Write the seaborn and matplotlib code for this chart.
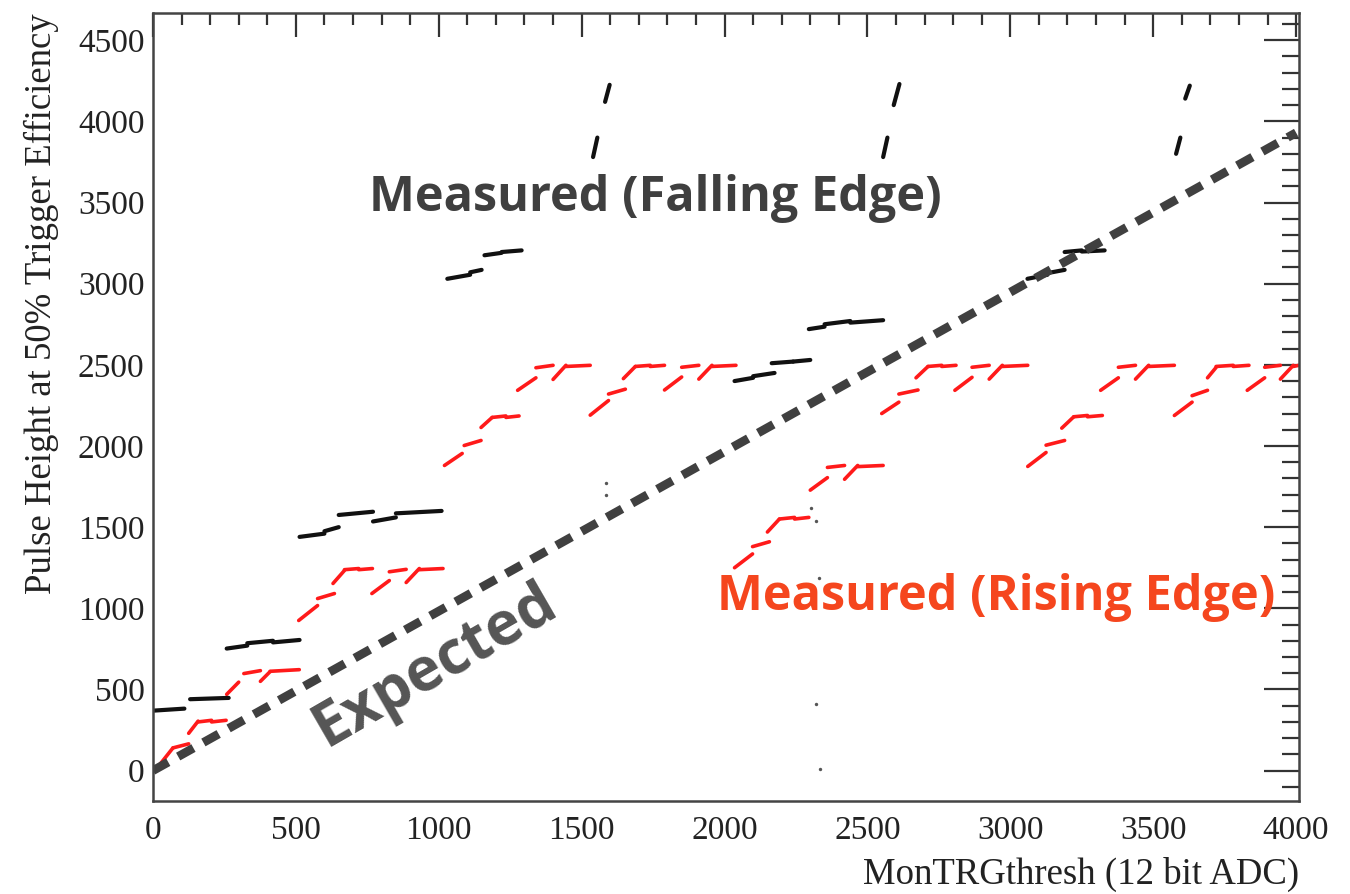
import numpy as np
import pandas as pd
import seaborn as sns
import matplotlib.pyplot as plt
from matplotlib.ticker import MultipleLocator

# rising edge (red) pieces: x start, x end, y start, y end
rise_x0 = [25, 70, 125, 158, 205,
           258, 318, 376, 410,
           510, 576, 630, 670, 720,
           766, 827, 886, 932,
           1020, 1089, 1148, 1187, 1235,
           1276, 1340, 1400, 1445,
           1530, 1594, 1646, 1688, 1740,
           1790, 1850, 1910, 1956,
           2035, 2098, 2150, 2192, 2245,
           2300, 2360, 2420, 2466,
           2550, 2610, 2670, 2712, 2760,
           2806, 2866, 2926, 2972,
           3061, 3125, 3180, 3222, 3270,
           3316, 3378, 3438, 3484,
           3574, 3636, 3690, 3720, 3780,
           3829, 3890, 3945, 3990]
rise_x1 = [70, 125, 158, 205, 256,
           300, 376, 410, 512,
           576, 635, 670, 720, 768,
           827, 886, 932, 1015,
           1082, 1148, 1187, 1235, 1281,
           1340, 1400, 1445, 1530,
           1594, 1653, 1688, 1740, 1790,
           1850, 1910, 1956, 2040,
           2098, 2157, 2192, 2245, 2295,
           2360, 2420, 2466, 2555,
           2610, 2677, 2712, 2760, 2810,
           2866, 2926, 2972, 3061,
           3125, 3190, 3222, 3270, 3322,
           3378, 3438, 3484, 3574,
           3636, 3690, 3720, 3780, 3835,
           3890, 3945, 3990, 4010]
rise_y0 = [40, 140, 230, 300, 300,
           470, 598, 550, 612,
           925, 1060, 1153, 1238, 1238,
           1091, 1225, 1159, 1238,
           1880, 2003, 2114, 2176, 2176,
           2343, 2482, 2410, 2490,
           2190, 2320, 2415, 2490, 2490,
           2345, 2485, 2412, 2490,
           1250, 1380, 1470, 1550, 1550,
           1728, 1868, 1795, 1873,
           2200, 2320, 2420, 2490, 2490,
           2343, 2485, 2412, 2490,
           1874, 2005, 2110, 2180, 2180,
           2343, 2485, 2412, 2490,
           2188, 2310, 2420, 2490, 2490,
           2343, 2485, 2412, 2490]
rise_y1 = [140, 165, 305, 310, 310,
           545, 616, 610, 622,
           1017, 1091, 1233, 1245, 1245,
           1171, 1240, 1245, 1245,
           1954, 2034, 2176, 2185, 2185,
           2420, 2497, 2497, 2497,
           2280, 2350, 2490, 2497, 2497,
           2425, 2497, 2497, 2497,
           1335, 1410, 1550, 1560, 1560,
           1805, 1880, 1880, 1880,
           2270, 2345, 2490, 2497, 2497,
           2423, 2497, 2497, 2497,
           1960, 2034, 2180, 2188, 2188,
           2420, 2497, 2497, 2497,
           2270, 2343, 2484, 2497, 2497,
           2420, 2497, 2497, 2497]

# falling edge (black) pieces
fall_x0 = [5, 130, 258, 330, 420, 513, 600, 650, 770, 850,
           1030, 1110, 1160, 1220, 1540, 1582,
           2035, 2100, 2165, 2240, 2295, 2350, 2440, 2555, 2592,
           3060, 3130, 3190, 3250, 3580, 3612]
fall_x1 = [110, 265, 330, 420, 513, 600, 650, 770, 850, 1010,
           1110, 1150, 1220, 1290, 1555, 1598,
           2100, 2175, 2240, 2300, 2350, 2440, 2555, 2570, 2612,
           3130, 3190, 3250, 3330, 3595, 3628]
fall_y0 = [370, 440, 752, 785, 790, 1440, 1475, 1575, 1535, 1585,
           3030, 3070, 3175, 3195, 3780, 4120,
           2400, 2430, 2510, 2520, 2720, 2750, 2760, 3780, 4100,
           3030, 3065, 3195, 3198, 3800, 4140]
fall_y1 = [382, 448, 770, 800, 805, 1460, 1500, 1595, 1560, 1600,
           3055, 3085, 3190, 3205, 3900, 4225,
           2420, 2450, 2520, 2530, 2735, 2770, 2775, 3900, 4230,
           3055, 3085, 3205, 3205, 3900, 4220]

# isolated points
dot_x = [1585, 1585, 2303, 2321, 2330, 2321, 2335]
dot_y = [1775, 1695, 1621, 1540, 1185, 413, 12]

# expected line
exp_x = [0, 4000]
exp_y = [0, 3930]


def segments(x0, x1, y0, y1, name):
    n = len(x0)
    return pd.DataFrame({
        "x": np.ravel(np.column_stack([x0, x1])),
        "y": np.ravel(np.column_stack([y0, y1])),
        "seg": np.repeat(np.arange(n), 2),
        "series": name,
    })


rise = segments(rise_x0, rise_x1, rise_y0, rise_y1, "rising")
fall = segments(fall_x0, fall_x1, fall_y0, fall_y1, "falling")

sns.set_theme(style="white")
plt.rcParams["font.family"] = ["Liberation Serif", "DejaVu Serif"]

fig, ax = plt.subplots(figsize=(13.5, 8.94), dpi=100)
fig.subplots_adjust(left=0.1133, right=0.9622, bottom=0.1035, top=0.985)

sns.lineplot(data=rise, x="x", y="y", units="seg", estimator=None, sort=False,
             color="#ff1a1a", lw=2.6, ax=ax, legend=False)
sns.lineplot(data=fall, x="x", y="y", units="seg", estimator=None, sort=False,
             color="#111111", lw=3.0, ax=ax, legend=False)
sns.scatterplot(x=dot_x, y=dot_y, color="#555555", s=6, linewidth=0, ax=ax)
sns.lineplot(x=exp_x, y=exp_y, color="#404040", lw=6.3, ax=ax,
             dashes=False, linestyle=(0, (2.0, 1.3)))

ax.set_xlim(0, 4010)
ax.set_ylim(-190, 4665)
ax.xaxis.set_major_locator(MultipleLocator(500))
ax.xaxis.set_minor_locator(MultipleLocator(100))
ax.yaxis.set_major_locator(MultipleLocator(500))
ax.yaxis.set_minor_locator(MultipleLocator(100))

ax.tick_params(which="both", direction="in", top=True, right=True,
               colors="#333333", labelcolor="#222222", width=1.6)
ax.tick_params(axis="x", which="major", length=17, labelsize=24, pad=10)
ax.tick_params(axis="x", which="minor", length=8.5)
ax.tick_params(axis="y", which="major", length=25, labelsize=24, pad=6)
ax.tick_params(axis="y", which="minor", length=12)
for s in ax.spines.values():
    s.set_color("#444444")
    s.set_linewidth(1.8)

ax.set_xlabel("MonTRGthresh (12 bit ADC)", fontsize=26.5, color="#222222", loc="right")
ax.set_ylabel("Pulse Height at 50% Trigger Efficiency", fontsize=26.5, color="#222222", loc="top")
ax.xaxis.set_label_coords(1.0, -0.07)
ax.yaxis.set_label_coords(-0.082, 1.0)

bold = dict(family="Open Sans", fontweight="bold")
ax.text(1757, 3525, "Measured (Falling Edge)", fontsize=35, color="#3f3f3f",
        ha="center", va="center", **bold)
ax.text(2950, 1065, "Measured (Rising Edge)", fontsize=35, color="#f5461e",
        ha="center", va="center", **bold)
ax.text(987, 645, "Expected", fontsize=43, color="#555555", rotation=30,
        ha="center", va="center", rotation_mode="anchor", **bold)

fig.savefig("out.png", dpi=100)
